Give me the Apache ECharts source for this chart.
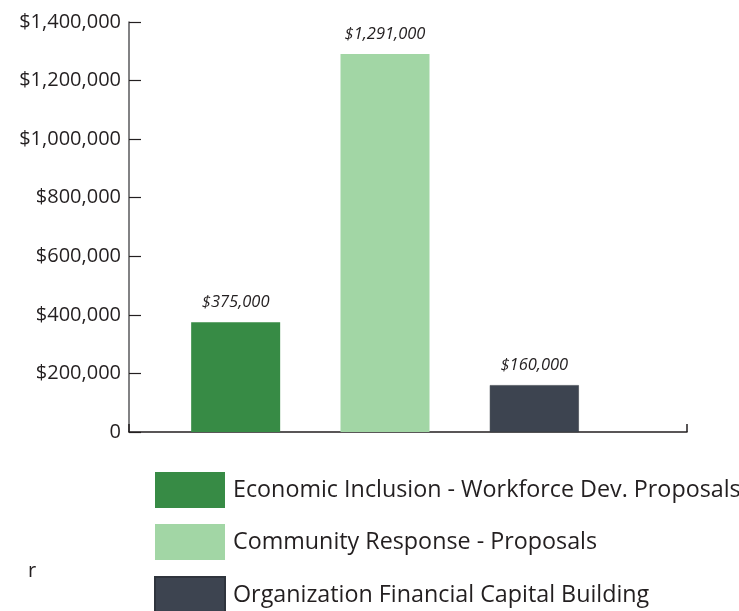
<!DOCTYPE html>
<html>
<head>
<meta charset="utf-8">
<script src="https://cdn.jsdelivr.net/npm/echarts@6/dist/echarts.min.js"></script>
<style>html,body{margin:0;padding:0;background:#fff}#c{width:739px;height:611px}</style>
</head>
<body>
<div id="c"></div>
<script>
var categories = ['Economic Inclusion - Workforce Dev. Proposals', 'Community Response - Proposals', 'Organization Financial Capital Building'];
var values = [375000, 1291000, 160000];
var colors = ['#378b45', '#a2d6a5', '#3d4450'];
var yMin = 0, yMax = 1400000, yStep = 200000;

var FONT = 'Open Sans';
var textColor = '#231f20';

function money(v) {
  if (v === 0) return '0';
  return '$' + v.toString().replace(/\B(?=(\d{3})+(?!\d))/g, ',');
}

var chart = echarts.init(document.getElementById('c'));
var series = categories.map(function (name, i) {
  var d = categories.map(function (_, j) { return j === i ? values[i] : '-'; });
  return {
    name: name,
    type: 'bar',
    xAxisIndex: 0,
    yAxisIndex: 0,
    data: d,
    barWidth: 89,
    barGap: '-100%',
    itemStyle: { color: colors[i], borderColor: i === 2 ? '#2f343d' : colors[i], borderWidth: i === 2 ? 0.5 : 0 },
    label: {
      show: true, position: 'top', distance: 11,
      formatter: function (p) { return money(p.value); },
      fontFamily: FONT, fontStyle: 'italic', fontSize: 16.5, color: textColor
    }
  };
});

chart.setOption({
  animation: false,
  textStyle: { fontFamily: FONT },
  graphic: [{ type: 'text', left: 28, top: 561, style: { text: 'r', fontFamily: FONT, fontSize: 20, fill: textColor } }],
  grid: [
    { left: 161, right: 130, top: 22, bottom: 179 },
    { left: 129, right: 52, top: 22, bottom: 179 }
  ],
  xAxis: [
    { gridIndex: 0, type: 'category', data: categories, show: false },
    { gridIndex: 1, type: 'category', data: [''], axisLine: { lineStyle: { color: '#231f20', width: 1.5 } },
      axisTick: { show: true, inside: true, length: 8, lineStyle: { color: '#231f20', width: 1.5 } },
      axisLabel: { show: false } }
  ],
  yAxis: [
    { gridIndex: 0, type: 'value', min: yMin, max: yMax, interval: yStep, show: false },
    { gridIndex: 1, type: 'value', min: yMin, max: yMax, interval: yStep,
      axisLine: { show: true, lineStyle: { color: '#58595b', width: 1.5 } },
      axisTick: { show: true, inside: true, length: 12, lineStyle: { color: '#231f20', width: 1.2 } },
      splitLine: { show: false },
      axisLabel: { formatter: money, fontFamily: FONT, fontSize: 20, color: textColor, margin: 8, padding: [4, 0, 0, 0] } }
  ],
  legend: {
    orient: 'vertical', left: 154, top: 472, height: 300, width: 700, padding: 0,
    itemWidth: 70, itemHeight: 36, itemGap: 16,
    icon: 'rect',
    textStyle: { fontFamily: FONT, fontSize: 23.3, color: textColor, padding: [4, 0, 0, 3] },
    data: categories
  },
  series: series
});
</script>
</body>
</html>
